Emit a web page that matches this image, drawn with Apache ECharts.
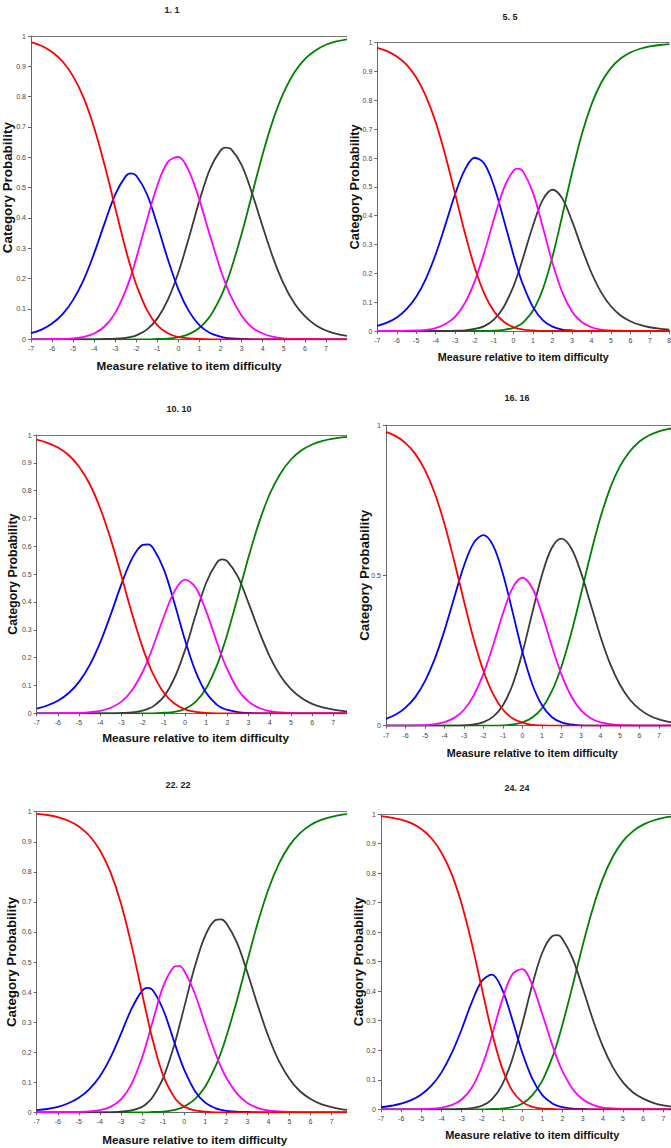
<!DOCTYPE html>
<html>
<head>
<meta charset="utf-8">
<script src="https://cdn.jsdelivr.net/npm/echarts@6/dist/echarts.min.js"></script>
<style>
html,body{margin:0;padding:0;background:#fff;width:671px;height:1148px;overflow:hidden;position:relative}
.panel{position:absolute;background:#fff;overflow:hidden}
</style>
</head>
<body>
<div id="p0" class="panel"></div>
<div id="p1" class="panel"></div>
<div id="p2" class="panel"></div>
<div id="p3" class="panel"></div>
<div id="p4" class="panel"></div>
<div id="p5" class="panel"></div>
<script>
// ---- DATA ----
const panelTitles = ['1. 1','5. 5','10. 10','16. 16','22. 22','24. 24'];
const xAxisTitle = 'Measure relative to item difficulty';
const yAxisTitle = 'Category Probability';
const categoryNames = ['Category 1','Category 2','Category 3','Category 4','Category 5'];

// Item 1
const item1Measures = [-7,-6.5,-6,-5.5,-5,-4.5,-4,-3.5,-3,-2.5,-2.25,-2,-1.5,-1,-0.5,0,0.5,1,1.5,2,2.25,2.5,3,3.5,4,4.5,5,5.5,6,6.5,7,7.5,8];
const item1Cat1 = [0.980,0.968,0.947,0.916,0.867,0.796,0.697,0.573,0.433,0.295,0.234,0.180,0.097,0.046,0.020,0.007,0.003,0.001,0,0,0,0,0,0,0,0,0,0,0,0,0,0,0];
const item1Cat2 = [0.020,0.032,0.052,0.083,0.130,0.196,0.284,0.384,0.478,0.538,0.547,0.539,0.479,0.376,0.263,0.164,0.092,0.046,0.021,0.009,0.005,0.003,0.001,0,0,0,0,0,0,0,0,0,0];
const item1Cat3 = [0,0,0.001,0.001,0.003,0.008,0.019,0.043,0.087,0.162,0.211,0.268,0.392,0.508,0.585,0.601,0.554,0.458,0.341,0.229,0.181,0.140,0.078,0.039,0.019,0.008,0.003,0.001,0.001,0,0,0,0];
const item1Cat4 = [0,0,0,0,0,0,0,0.001,0.002,0.005,0.008,0.013,0.032,0.069,0.131,0.221,0.336,0.458,0.562,0.623,0.632,0.627,0.574,0.480,0.371,0.267,0.182,0.119,0.076,0.047,0.029,0.018,0.011];
const item1Cat5 = [0,0,0,0,0,0,0,0,0,0,0,0,0,0.001,0.002,0.007,0.017,0.038,0.076,0.139,0.181,0.231,0.348,0.480,0.611,0.725,0.815,0.880,0.924,0.952,0.971,0.982,0.989];
// Item 5
const item5Measures = [-7,-6.5,-6,-5.5,-5,-4.5,-4,-3.5,-3,-2.5,-2,-1.5,-1,-0.5,0,0.25,0.5,1,1.5,2,2.5,3,3.5,4,4.5,5,5.5,6,6.5,7,7.5,8];
const item5Cat1 = [0.982,0.971,0.952,0.924,0.879,0.814,0.724,0.608,0.475,0.340,0.221,0.129,0.068,0.032,0.013,0.008,0.005,0.002,0,0,0,0,0,0,0,0,0,0,0,0,0,0];
const item5Cat2 = [0.018,0.029,0.047,0.076,0.119,0.182,0.266,0.369,0.475,0.560,0.601,0.580,0.501,0.385,0.263,0.207,0.158,0.083,0.038,0.015,0.005,0.002,0,0,0,0,0,0,0,0,0,0];
const item5Cat3 = [0,0,0,0.001,0.002,0.004,0.010,0.024,0.050,0.097,0.172,0.274,0.390,0.495,0.557,0.563,0.552,0.479,0.361,0.236,0.135,0.068,0.031,0.013,0.005,0.002,0.001,0,0,0,0,0];
const item5Cat4 = [0,0,0,0,0,0,0,0,0.001,0.002,0.007,0.017,0.040,0.084,0.156,0.203,0.256,0.366,0.455,0.490,0.460,0.382,0.288,0.202,0.134,0.086,0.054,0.034,0.021,0.013,0.008,0.005];
const item5Cat5 = [0,0,0,0,0,0,0,0,0,0,0,0,0.001,0.004,0.011,0.019,0.030,0.071,0.145,0.258,0.400,0.548,0.681,0.785,0.861,0.912,0.945,0.966,0.979,0.987,0.992,0.995];
// Item 10
const item10Measures = [-7,-6.5,-6,-5.5,-5,-4.5,-4,-3.5,-3,-2.5,-2,-1.75,-1.5,-1,-0.5,0,0.5,1,1.5,1.75,2,2.5,3,3.5,4,4.5,5,5.5,6,6.5,7,7.5,8];
const item10Cat1 = [0.983,0.972,0.955,0.928,0.886,0.824,0.736,0.624,0.493,0.358,0.236,0.185,0.140,0.074,0.035,0.014,0.005,0.001,0,0,0,0,0,0,0,0,0,0,0,0,0,0,0];
const item10Cat2 = [0.017,0.028,0.045,0.072,0.113,0.173,0.255,0.356,0.464,0.556,0.605,0.607,0.593,0.517,0.396,0.263,0.150,0.074,0.031,0.019,0.012,0.004,0.001,0,0,0,0,0,0,0,0,0,0];
const item10Cat3 = [0,0,0,0.001,0.001,0.004,0.009,0.020,0.042,0.083,0.149,0.192,0.241,0.347,0.438,0.480,0.452,0.366,0.256,0.203,0.157,0.085,0.042,0.019,0.008,0.003,0.001,0,0,0,0,0,0];
const item10Cat4 = [0,0,0,0,0,0,0,0,0.001,0.003,0.010,0.016,0.025,0.060,0.126,0.227,0.352,0.469,0.541,0.553,0.546,0.490,0.396,0.294,0.204,0.135,0.087,0.055,0.034,0.021,0.013,0.008,0.005];
const item10Cat5 = [0,0,0,0,0,0,0,0,0,0,0,0,0,0.002,0.005,0.016,0.041,0.090,0.171,0.225,0.285,0.421,0.562,0.687,0.788,0.861,0.912,0.945,0.966,0.979,0.987,0.992,0.995];
// Item 16
const item16Measures = [-7,-6.5,-6,-5.5,-5,-4.5,-4,-3.5,-3,-2.5,-2,-1.5,-1,-0.5,0,0.5,1,1.5,2,2.5,3,3.5,4,4.5,5,5.5,6,6.5,7,7.5,8];
const item16Cat1 = [0.977,0.963,0.940,0.904,0.850,0.773,0.671,0.547,0.414,0.287,0.182,0.104,0.053,0.024,0.010,0.003,0.001,0,0,0,0,0,0,0,0,0,0,0,0,0,0];
const item16Cat2 = [0.023,0.037,0.060,0.095,0.148,0.222,0.317,0.426,0.532,0.608,0.634,0.598,0.504,0.376,0.244,0.138,0.068,0.029,0.011,0.004,0.001,0,0,0,0,0,0,0,0,0,0];
const item16Cat3 = [0,0,0,0.001,0.002,0.005,0.012,0.026,0.053,0.101,0.173,0.269,0.374,0.459,0.492,0.458,0.371,0.266,0.170,0.098,0.051,0.025,0.011,0.005,0.002,0.001,0,0,0,0,0];
const item16Cat4 = [0,0,0,0,0,0,0,0,0.001,0.004,0.012,0.030,0.068,0.138,0.244,0.375,0.501,0.591,0.622,0.590,0.509,0.403,0.296,0.205,0.136,0.087,0.055,0.034,0.021,0.013,0.008];
const item16Cat5 = [0,0,0,0,0,0,0,0,0,0,0,0,0.001,0.004,0.011,0.027,0.058,0.114,0.197,0.308,0.438,0.572,0.693,0.791,0.863,0.912,0.945,0.966,0.979,0.987,0.992];
// Item 22
const item22Measures = [-7,-6.5,-6,-5.5,-5,-4.5,-4,-3.5,-3,-2.5,-2,-1.75,-1.5,-1,-0.5,-0.25,0,0.5,1,1.5,1.75,2,2.5,3,3.5,4,4.5,5,5.5,6,6.5,7,7.5,8];
const item22Cat1 = [0.993,0.989,0.982,0.970,0.951,0.920,0.872,0.799,0.695,0.556,0.396,0.316,0.242,0.123,0.053,0.032,0.019,0.006,0.002,0,0,0,0,0,0,0,0,0,0,0,0,0,0,0];
const item22Cat2 = [0.007,0.011,0.018,0.030,0.048,0.077,0.120,0.182,0.261,0.344,0.404,0.414,0.407,0.342,0.240,0.188,0.142,0.072,0.032,0.013,0.008,0.005,0.002,0.001,0,0,0,0,0,0,0,0,0,0];
const item22Cat3 = [0,0,0,0,0.001,0.003,0.007,0.018,0.043,0.094,0.182,0.239,0.301,0.418,0.483,0.487,0.471,0.396,0.292,0.193,0.151,0.115,0.063,0.031,0.014,0.006,0.003,0.001,0,0,0,0,0,0];
const item22Cat4 = [0,0,0,0,0,0,0,0,0.002,0.006,0.018,0.031,0.050,0.114,0.217,0.281,0.349,0.483,0.588,0.640,0.642,0.629,0.565,0.465,0.354,0.252,0.170,0.111,0.070,0.044,0.027,0.017,0.010,0.006];
const item22Cat5 = [0,0,0,0,0,0,0,0,0,0,0,0,0.001,0.002,0.007,0.012,0.019,0.043,0.086,0.155,0.199,0.251,0.371,0.504,0.632,0.742,0.827,0.888,0.929,0.956,0.973,0.983,0.990,0.994];
// Item 24
const item24Measures = [-7,-6.5,-6,-5.5,-5,-4.5,-4,-3.5,-3,-2.5,-2,-1.5,-1,-0.5,0,0.5,1,1.5,1.75,2,2.5,3,3.5,4,4.5,5,5.5,6,6.5,7,7.5,8];
const item24Cat1 = [0.993,0.988,0.981,0.969,0.949,0.918,0.869,0.797,0.695,0.562,0.409,0.260,0.141,0.064,0.025,0.008,0.002,0.001,0,0,0,0,0,0,0,0,0,0,0,0,0,0];
const item24Cat2 = [0.007,0.012,0.019,0.031,0.050,0.080,0.125,0.189,0.271,0.362,0.434,0.456,0.407,0.306,0.193,0.104,0.048,0.020,0.012,0.007,0.002,0.001,0,0,0,0,0,0,0,0,0,0];
const item24Cat3 = [0,0,0,0,0.001,0.002,0.006,0.014,0.033,0.073,0.145,0.250,0.368,0.456,0.475,0.421,0.322,0.216,0.169,0.129,0.069,0.034,0.015,0.006,0.003,0.001,0,0,0,0,0,0];
const item24Cat4 = [0,0,0,0,0,0,0,0,0.001,0.004,0.012,0.034,0.082,0.168,0.288,0.421,0.531,0.587,0.590,0.577,0.511,0.411,0.305,0.213,0.142,0.091,0.057,0.036,0.022,0.013,0.008,0.005];
const item24Cat5 = [0,0,0,0,0,0,0,0,0,0,0,0.001,0.002,0.007,0.019,0.047,0.097,0.177,0.228,0.287,0.418,0.555,0.679,0.781,0.856,0.908,0.942,0.964,0.978,0.987,0.992,0.995];

const panelMeasures = [item1Measures, item5Measures, item10Measures, item16Measures, item22Measures, item24Measures];
const panelSeries = [
  [item1Cat1, item1Cat2, item1Cat3, item1Cat4, item1Cat5],
  [item5Cat1, item5Cat2, item5Cat3, item5Cat4, item5Cat5],
  [item10Cat1, item10Cat2, item10Cat3, item10Cat4, item10Cat5],
  [item16Cat1, item16Cat2, item16Cat3, item16Cat4, item16Cat5],
  [item22Cat1, item22Cat2, item22Cat3, item22Cat4, item22Cat5],
  [item24Cat1, item24Cat2, item24Cat3, item24Cat4, item24Cat5]
];

// ---- STYLE / LAYOUT ----
const catColors = ['#ff0000', '#0000ff', '#ff00ff', '#3a3a3a', '#008000'];
const drawOrder = [4, 3, 1, 2, 0];
const FONT = '"Liberation Sans", Arial, sans-serif';
const layouts = [
  {x:0,   y:0,   w:347, h:380, gl:31,   gt:36,   gw:316,   gh:303.3, tx:172, ty:10, xFs:11.7, xGap:20,   yFs:13.4, yGap:17,   yInt:0.1, showMax:false},
  {x:347, y:0,   w:324, h:380, gl:30.3, gt:42.7, gw:292,   gh:288.3, tx:163, ty:17, xFs:10.8, xGap:20.5, yFs:12.8, yGap:16.5, yInt:0.1, showMax:true},
  {x:0,   y:380, w:347, h:380, gl:36.7, gt:55,   gw:317.8, gh:278.3, tx:179, ty:29, xFs:11.8, xGap:18.7, yFs:12.4, yGap:18,   yInt:0.1, showMax:false},
  {x:347, y:380, w:324, h:385, gl:39,   gt:45,   gw:292.5, gh:300.7, tx:170, ty:18, xFs:10.8, xGap:21.4, yFs:13.4, yGap:15.5, yInt:0.5, showMax:false},
  {x:0,   y:760, w:347, h:388, gl:36.7, gt:51.7, gw:316,   gh:300.6, tx:178, ty:25, xFs:11.7, xGap:21.4, yFs:13.3, yGap:18.5, yInt:0.1, showMax:false},
  {x:347, y:760, w:324, h:388, gl:34,   gt:54,   gw:302.5, gh:295.3, tx:170, ty:28, xFs:11.0, xGap:20.2, yFs:13.2, yGap:15.7, yInt:0.1, showMax:false}
];

layouts.forEach((L, p) => {
  const el = document.getElementById('p' + p);
  el.style.left = L.x + 'px'; el.style.top = L.y + 'px';
  el.style.width = L.w + 'px'; el.style.height = L.h + 'px';
  const chart = echarts.init(el, null, {renderer: 'svg'});
  const xsP = panelMeasures[p];
  const series = drawOrder.map(k => ({
    name: categoryNames[k],
    type: 'line',
    smooth: 0.35,
    symbol: 'none',
    animation: false,
    lineStyle: {color: catColors[k], width: 1.8},
    itemStyle: {color: catColors[k]},
    data: xsP.map((m, i) => [m, panelSeries[p][k][i]])
  }));
  chart.setOption({
    animation: false,
    backgroundColor: '#fff',
    graphic: [{
      type: 'text', x: L.tx, y: L.ty,
      style: {text: panelTitles[p], fill: '#222', font: 'bold 9px ' + FONT, align: 'center', verticalAlign: 'middle'}
    }],
    grid: {left: L.gl, top: L.gt, width: L.gw, height: L.gh, containLabel: false, outerBoundsMode: 'none'},
    xAxis: [{
      type: 'value', min: -7, max: 8, interval: 1,
      name: xAxisTitle, nameLocation: 'middle', nameGap: L.xGap, nameMoveOverlap: false,
      nameTextStyle: {fontFamily: FONT, fontWeight: 'bold', fontSize: L.xFs, color: '#111'},
      axisLine: {show: true, onZero: false, lineStyle: {color: '#666', width: 1}},
      axisTick: {show: true, length: 3, lineStyle: {color: '#666'}},
      axisLabel: {fontFamily: FONT, fontSize: 7, color: '#444', margin: 6, showMaxLabel: L.showMax},
      splitLine: {show: false}
    }, {
      type: 'value', position: 'top', min: -7, max: 8,
      axisLine: {show: true, onZero: false, lineStyle: {color: '#777', width: 1}},
      axisTick: {show: false}, axisLabel: {show: false}, splitLine: {show: false}
    }],
    yAxis: {
      type: 'value', min: 0, max: 1, interval: L.yInt,
      name: yAxisTitle, nameLocation: 'middle', nameGap: L.yGap, nameRotate: 90, nameMoveOverlap: false,
      nameTextStyle: {fontFamily: FONT, fontWeight: 'bold', fontSize: L.yFs, color: '#111'},
      axisLine: {show: true, onZero: false, lineStyle: {color: '#666', width: 1}},
      axisTick: {show: true, length: 3, lineStyle: {color: '#666'}},
      axisLabel: {fontFamily: FONT, fontSize: 7, color: '#444', margin: 5},
      splitLine: {show: false}
    },
    series: series
  });
});
</script>
</body>
</html>
